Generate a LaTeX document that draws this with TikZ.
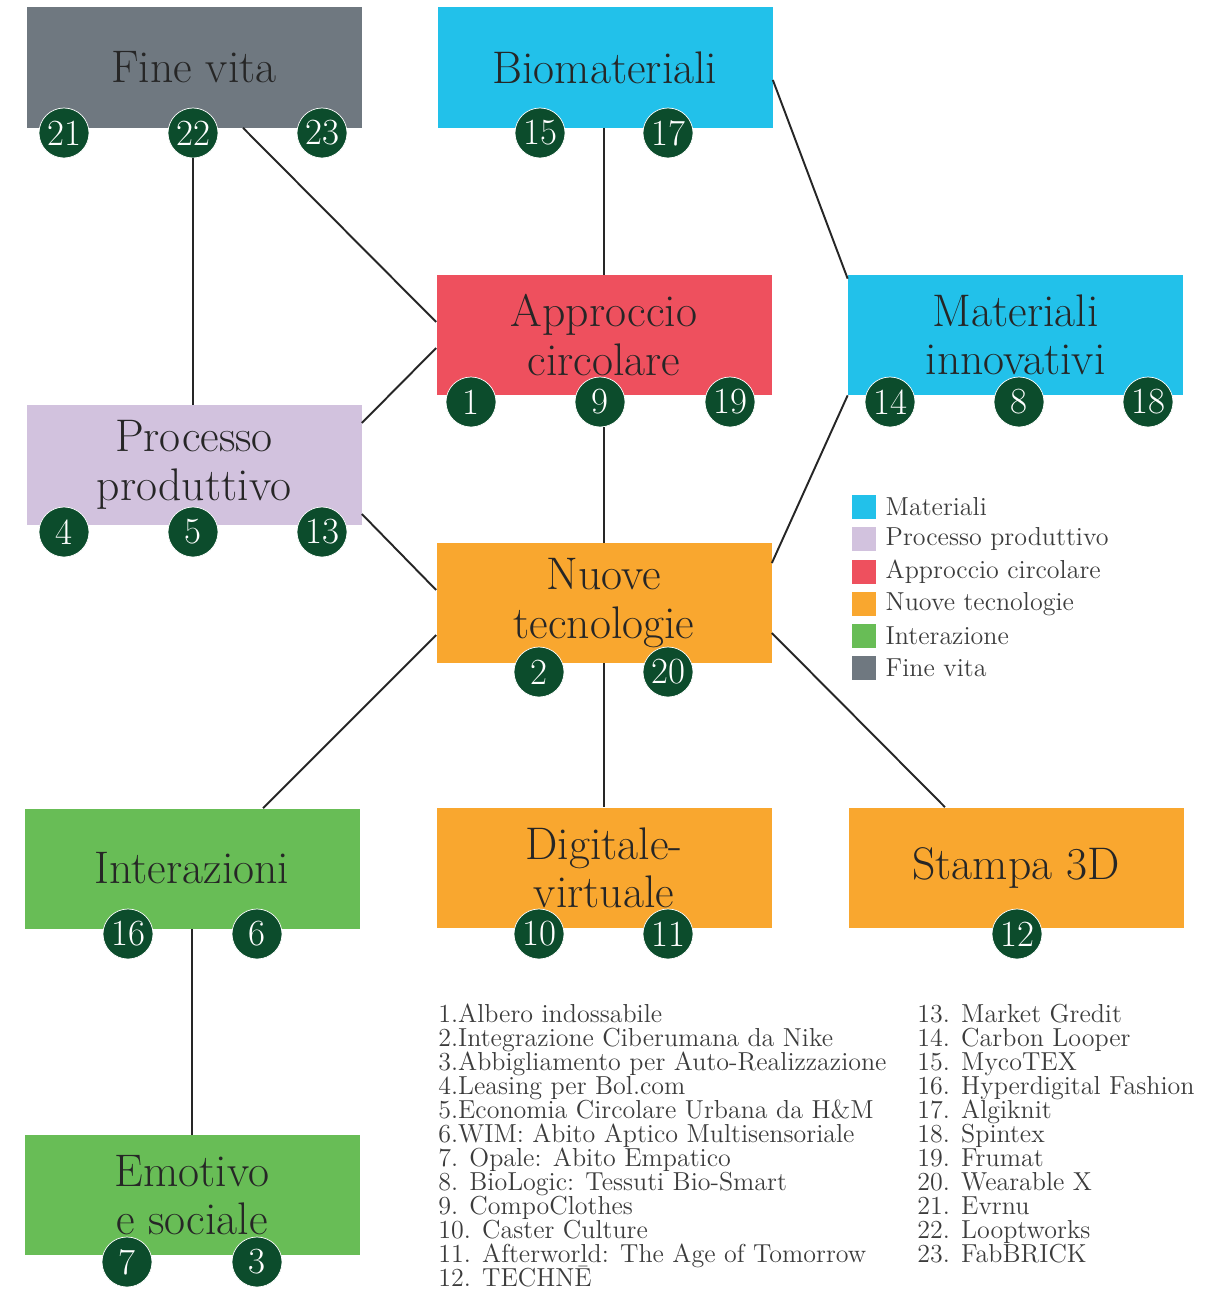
\documentclass[tikz,border=0pt]{standalone}
\usepackage{fontspec}
\usepackage{tikz}
\usetikzlibrary{positioning,calc}
\definecolor{fvgray}{HTML}{6F7880}
\definecolor{matcyan}{HTML}{22C1EA}
\definecolor{circred}{HTML}{EE505E}
\definecolor{proclav}{HTML}{D2C2DE}
\definecolor{tecorange}{HTML}{F9A72F}
\definecolor{intgreen}{HTML}{68BD56}
\definecolor{numgreen}{HTML}{0C4C2C}
\definecolor{ink}{HTML}{262626}
\tikzset{box/.style={rectangle,minimum width=6.7cm,minimum height=2.4cm,inner sep=0pt,text=ink,align=center,font=\fontsize{26}{27.5}\selectfont}  }
\tikzset{num/.style={circle,fill=numgreen,draw=white,line width=0.4pt,minimum size=1cm,inner sep=0pt,text=white,font=\fontsize{21}{21}\selectfont}  }
\tikzset{item/.style={anchor=base west,inner sep=0pt,text=ink!90,font=\fontsize{14.8}{15}\selectfont}  }
\tikzset{leg/.style={rectangle,minimum size=0.48cm,inner sep=0pt}  }
\tikzset{link/.style={line width=1.1pt,black!85}  }

\begin{document}
\begin{tikzpicture}
	\useasboundingbox (0,0) rectangle (24.36,-25.78);
	% boxes
	\node[box,fill=fvgray] (fine) at (3.88,-1.35) {Fine vita};
	\node[box,fill=matcyan] (bio) at (12.10,-1.35) {Biomateriali};
	\node[box,fill=circred] (appr) at (12.08,-6.70) {Approccio\\circolare};
	\node[box,fill=matcyan] (mat) at (20.31,-6.70) {Materiali\\innovativi};
	\node[box,fill=proclav] (proc) at (3.88,-9.30) {Processo\\produttivo};
	\node[box,fill=tecorange] (nuove) at (12.08,-12.06) {Nuove\\tecnologie};
	\node[box,fill=intgreen] (inter) at (3.84,-17.37) {Interazioni};
	\node[box,fill=tecorange] (dig) at (12.08,-17.35) {Digitale-\\virtuale};
	\node[box,fill=tecorange] (stampa) at (20.32,-17.35) {Stampa 3D};
	\node[box,fill=intgreen] (emo) at (3.84,-23.90) {Emotivo\\e sociale};

	% links
	\draw[link] ([xshift=0.98cm]fine.south) -- ([yshift=0.26cm]appr.west);
	\draw[link] (appr.north |- bio.south) -- (appr.north);
	\draw[link] ([yshift=-0.25cm]bio.east) -- ([yshift=-0.08cm]mat.north west);
	\draw[link] ([yshift=0.84cm]proc.east) -- ([yshift=-0.26cm]appr.west);
	\draw[link] ([yshift=-0.98cm]proc.east) -- ([yshift=0.26cm]nuove.west);
	\draw[link] (mat.south west) -- ([yshift=0.80cm]nuove.east);
	\draw[link] ([yshift=-0.64cm]nuove.west) -- ([xshift=1.42cm]inter.north);
	\draw[link] (nuove.south) -- (dig.north);
	\draw[link] ([yshift=-0.60cm]nuove.east) -- ([xshift=-1.42cm]stampa.north);
	\draw[link] (inter.south) -- (emo.north);

	% numbers
	\foreach \n/\x/\y in {21/1.28/-2.66, 22/3.86/-2.66, 23/6.44/-2.66,
		15/10.80/-2.66, 17/13.36/-2.66,
		1/9.42/-8.04, 9/12.00/-8.04, 19/14.60/-8.04,
		14/17.80/-8.04, 8/20.38/-8.04, 18/22.96/-8.04,
		4/1.28/-10.64, 5/3.86/-10.64, 13/6.44/-10.64,
		2/10.78/-13.44, 20/13.36/-13.44,
		16/2.56/-18.68, 6/5.14/-18.68,
		10/10.78/-18.68, 11/13.36/-18.68,
		12/20.34/-18.68,
		7/2.54/-25.24, 3/5.14/-25.24}
		\node[num] (c\n) at (\x,\y) {\n};
	\draw[link] (c22.south) -- (c22.south |- proc.north);
	\draw[link] (c9.south -| nuove.north) -- (nuove.north);

	% legend
	\foreach \c/\t [count=\i] in {matcyan/Materiali, proclav/Processo produttivo, circred/Approccio circolare,
		tecorange/Nuove tecnologie, intgreen/Interazione, fvgray/Fine vita}
	{
		\node[leg,fill=\c] (k\i) at (17.28,{-10.14-0.645*(\i-1)}) {};
		\node[item,anchor=west,right=0.18cm of k\i] (kt\i) {\t};
	}

	% list
	\foreach \t [count=\i] in {1.Albero indossabile, 2.Integrazione Ciberumana da Nike,
		3.Abbigliamento per Auto-Realizzazione, 4.Leasing per Bol.com,
		5.Economia Circolare Urbana da H\&M, 6.WIM: Abito Aptico Multisensoriale,
		7. Opale: Abito Empatico, 8. BioLogic: Tessuti Bio-Smart, 9. CompoClothes,
		10. Caster Culture, 11. Afterworld: The Age of Tomorrow, 12. TECHNĒ}
		\node[item] (la\i) at (8.76,{-20.44-0.48*(\i-1)}) {\t};
	\foreach \t [count=\i] in {13. Market Gredit, 14. Carbon Looper, 15. MycoTEX,
		16. Hyperdigital Fashion, 17. Algiknit, 18. Spintex, 19. Frumat,
		20. Wearable X, 21. Evrnu, 22. Looptworks, 23. FabBRICK}
		\node[item] (lb\i) at (18.34,{-20.44-0.48*(\i-1)}) {\t};
\end{tikzpicture}
\end{document}
